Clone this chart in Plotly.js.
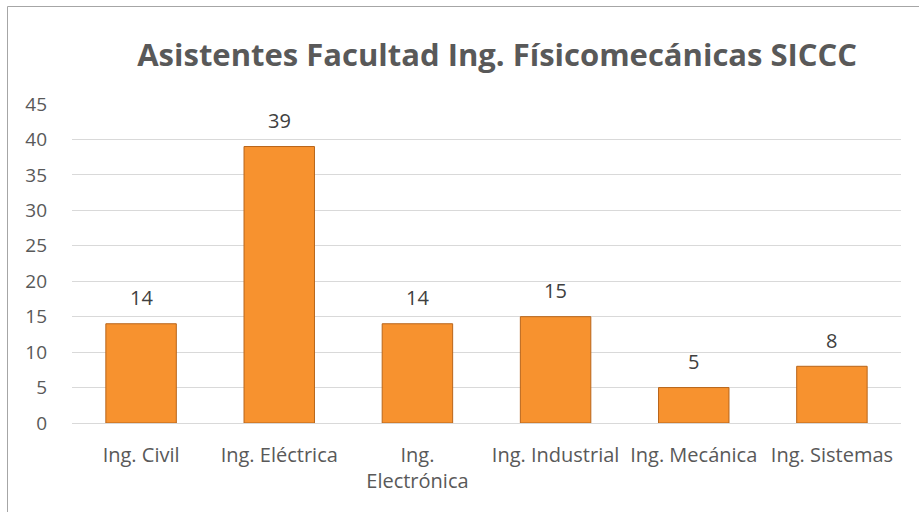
<!DOCTYPE html>
<html>
<head>
<meta charset="utf-8">
<script src="https://cdn.plot.ly/plotly-3.0.1.min.js"></script>
<style>html,body{margin:0;padding:0;background:#fff;}#chart{width:919px;height:512px;}</style>
</head>
<body>
<div id="chart"></div>
<script>
const categories = ["Ing. Civil", "Ing. Eléctrica", "Ing.<br>Electrónica", "Ing. Industrial", "Ing. Mecánica", "Ing. Sistemas"];
const values = [14, 39, 14, 15, 5, 8];
const yTicks = [0, 5, 10, 15, 20, 25, 30, 35, 40, 45];
const chartTitle = "Asistentes Facultad Ing. Físicomecánicas SICCC";

const font = "'Open Sans', 'Liberation Sans', sans-serif";
const L = 72, R = 18, T = 104, B = 89, W = 919, H = 512;
const pw = W - L - R, ph = H - T - B;
const px = v => (v - L) / pw;
const py = v => (H - B - v) / ph;

const trace = {
  type: "bar",
  x: categories,
  y: values,
  marker: {color: "#F7922F", line: {color: "#B8651A", width: 1}},
  hoverinfo: "none"
};

const labels = categories.map((c, i) => ({
  x: c, y: values[i], xref: "x", yref: "y",
  text: String(values[i]), showarrow: false,
  yanchor: "middle", yshift: 26,
  font: {family: font, size: 20, color: "#404040"}
}));

const layout = {
  width: W, height: H,
  margin: {l: L, r: R, t: T, b: B},
  paper_bgcolor: "#fff", plot_bgcolor: "#fff",
  showlegend: false,
  bargap: 0.49,
  title: {text: "<b>" + chartTitle + "</b>", font: {family: font, size: 31, color: "#595959"},
          x: 0.541, xanchor: "center", y: 0.893, yanchor: "middle"},
  xaxis: {type: "category", tickfont: {family: font, size: 20, color: "#595959"},
          showgrid: false, zeroline: false, showline: false, ticks: "", ticklabelstandoff: 18},
  yaxis: {range: [0, 45], tickvals: yTicks, ticktext: yTicks.map(String),
          tickfont: {family: font, size: 19, color: "#595959"},
          gridcolor: "#D9D9D9", gridwidth: 1, zeroline: true, zerolinecolor: "#D9D9D9", zerolinewidth: 1,
          showline: false, ticks: "", ticklabelstandoff: 24},
  annotations: labels,
  shapes: [
    {type: "line", xref: "paper", yref: "paper", x0: px(7.5), x1: px(7.5), y0: py(6.5), y1: py(520), line: {color: "#A6A6A6", width: 1}},
    {type: "line", xref: "paper", yref: "paper", x0: px(7.5), x1: px(930), y0: py(6.5), y1: py(6.5), line: {color: "#A6A6A6", width: 1}}
  ]
};

Plotly.newPlot("chart", [trace], layout, {staticPlot: true, displayModeBar: false});
</script>
</body>
</html>
